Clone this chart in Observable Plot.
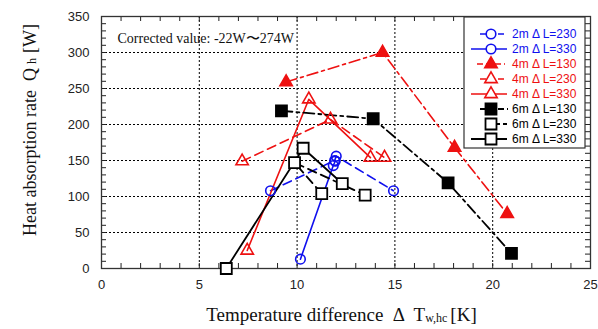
<!DOCTYPE html>
<html>
<head>
<meta charset="utf-8">
<script src="https://cdn.jsdelivr.net/npm/d3@7"></script>
<script src="https://cdn.jsdelivr.net/npm/@observablehq/plot@0.6"></script>
<style>
  html, body { margin: 0; padding: 0; background: #fff; }
  #chart svg { display: block; }
</style>
</head>
<body>
<div id="chart"></div>
<script>
// ---- data ----
const seriesNames = ["2m Δ L=230", "2m Δ L=330", "4m Δ L=130", "4m Δ L=230", "4m Δ L=330", "6m Δ L=130", "6m Δ L=230", "6m Δ L=330"];

const dT_2m230 = [8.64, 11.92, 12.0, 14.93];
const Q_2m230  = [108, 150, 156, 108];
const dT_2m330 = [10.17, 11.85, 11.95];
const Q_2m330  = [13, 143, 149];
const dT_4m130 = [9.44, 14.37, 18.05, 20.74];
const Q_4m130  = [259, 300, 168, 76];
const dT_4m230 = [7.19, 11.71, 14.47];
const Q_4m230  = [149, 207, 154];
const dT_4m330 = [7.45, 10.6, 13.75];
const Q_4m330  = [25, 235, 154];
const dT_6m130 = [9.2, 13.89, 17.72, 20.96];
const Q_6m130  = [219, 208, 119, 21];
const dT_6m230 = [11.26, 9.87, 13.48];
const Q_6m230  = [104, 147, 102];
const dT_6m330 = [6.38, 10.31, 12.31];
const Q_6m330  = [0, 167, 118];

const xTickLabels = [0, 5, 10, 15, 20, 25];
const yTickLabels = [0, 50, 100, 150, 200, 250, 300, 350];
const annotation = "Corrected value: -22W\u301C274W";

// ---- styles ----
const BLUE = "#1010ee", RED = "#ee1111", BLACK = "#000";
const DASH = "9,5", DASHDOT = "11,4,3,4";
const styles = [
  {color: BLUE,  dash: DASH,    symbol: "circle",   fill: "none",  r: 4.8, sw: 1.6, lx1: 480, lx2: 507},
  {color: BLUE,  dash: null,    symbol: "circle",   fill: "none",  r: 4.8, sw: 1.6, lx1: 471, lx2: 507},
  {color: RED,   dash: DASHDOT, symbol: "triangle", fill: RED,     r: 4.6, sw: 1.6, lx1: 477, lx2: 505},
  {color: RED,   dash: DASH,    symbol: "triangle", fill: "none",  r: 4.6, sw: 1.6, lx1: 480, lx2: 507},
  {color: RED,   dash: null,    symbol: "triangle", fill: "none",  r: 4.6, sw: 1.6, lx1: 471, lx2: 507},
  {color: BLACK, dash: DASHDOT, symbol: "square",   fill: BLACK,   r: 6.2, sw: 1.8, lx1: 480, lx2: 508},
  {color: BLACK, dash: DASH,    symbol: "square",   fill: "#fff",  r: 6.2, sw: 1.8, lx1: 485, lx2: 507},
  {color: BLACK, dash: null,    symbol: "square",   fill: "#fff",  r: 6.2, sw: 1.8, lx1: 471, lx2: 507}
];

const xs = [dT_2m230, dT_2m330, dT_4m130, dT_4m230, dT_4m330, dT_6m130, dT_6m230, dT_6m330];
const ys = [Q_2m230, Q_2m330, Q_4m130, Q_4m230, Q_4m330, Q_6m130, Q_6m230, Q_6m330];
const series = seriesNames.map((name, i) => ({
  name, style: styles[i],
  data: xs[i].map((x, j) => ({name, dT: x, Q: ys[i][j]}))
}));

const W = 598, H = 329, ML = 101, MR = 8, MT = 16, MB = 61;
const innerW = W - ML - MR, innerH = H - MT - MB;
const tickColor = "#222";

const marks = [
  Plot.gridX(xTickLabels.slice(1, -1), {stroke: "#000", strokeOpacity: 1, strokeWidth: 1, strokeDasharray: "2,2"}),
  Plot.gridY(yTickLabels.slice(1, -1), {stroke: "#000", strokeOpacity: 1, strokeWidth: 1, strokeDasharray: "2,2"}),
  // inward minor ticks on all four sides
  Plot.tickX(d3.range(0, 26, 1), {x: d => d, insetTop: innerH - 5, stroke: tickColor}),
  Plot.tickX(d3.range(0, 26, 1), {x: d => d, insetBottom: innerH - 5, stroke: tickColor}),
  Plot.tickY(d3.range(0, 351, 10), {y: d => d, insetRight: innerW - 5, stroke: tickColor}),
  Plot.tickY(d3.range(0, 351, 10), {y: d => d, insetLeft: innerW - 5, stroke: tickColor}),
  Plot.axisX(xTickLabels, {tickSize: 0, tickPadding: 11, fontSize: 13, fill: tickColor, fontFamily: "Liberation Sans, Arial, sans-serif", label: null}),
  Plot.axisY(yTickLabels, {tickSize: 0, tickPadding: 12, fontSize: 13, fill: tickColor, fontFamily: "Liberation Sans, Arial, sans-serif", label: null}),
  Plot.frame({stroke: "#333", strokeWidth: 1.3}),
  Plot.text([annotation], {text: d => d, frameAnchor: "top-left", dx: 16, dy: 22, fontSize: 14, fontFamily: "Liberation Serif, Times New Roman, serif", fill: "#111", textAnchor: "start", lineAnchor: "middle"})
];
for (const s of series) {
  marks.push(Plot.line(s.data, {x: "dT", y: "Q", stroke: s.style.color, strokeWidth: s.style.sw, strokeDasharray: s.style.dash}));
}
for (const s of series) {
  marks.push(Plot.dot(s.data, {x: "dT", y: "Q", symbol: s.style.symbol, r: s.style.r, stroke: s.style.color, strokeWidth: s.style.sw, fill: s.style.fill}));
}

const chart = Plot.plot({
  width: W, height: H,
  marginLeft: ML, marginRight: MR, marginTop: MT, marginBottom: MB,
  x: {domain: [0, 25], label: null},
  y: {domain: [0, 350], label: null},
  style: {background: "#fff", overflow: "visible"},
  marks
});
document.getElementById("chart").appendChild(chart);

// ---- axis titles and legend (non-data decorations) ----
const svg = d3.select(chart);
const serif = "Liberation Serif, Times New Roman, serif";

const yt = svg.append("text")
  .attr("transform", `translate(36,${MT + innerH / 2 - 12}) rotate(-90)`)
  .attr("text-anchor", "middle")
  .attr("font-family", serif).attr("font-size", 18).attr("fill", "#111");
yt.append("tspan").text("Heat absorption rate  Q");
yt.append("tspan").attr("font-size", 12).attr("dx", 4).text("h");
yt.append("tspan").attr("dx", 5).text("[W]");

const xt = svg.append("text")
  .attr("x", ML + innerW / 2 - 4).attr("y", 321)
  .attr("text-anchor", "middle")
  .attr("font-family", serif).attr("font-size", 19).attr("fill", "#111");
xt.append("tspan").text("Temperature difference  Δ  T");
xt.append("tspan").attr("font-size", 12).attr("dy", 1).text("w,hc");
xt.append("tspan").attr("dy", -1).attr("dx", 3).text("[K]");

const lg = svg.append("g").attr("text-anchor", "start");
lg.append("rect").attr("x", 464).attr("y", 17).attr("width", 121).attr("height", 131)
  .attr("fill", "#fff").attr("stroke", "#333").attr("stroke-width", 1.2);
const symMap = {circle: d3.symbolCircle, triangle: d3.symbolTriangle, square: d3.symbolSquare};
series.forEach((s, i) => {
  const y = 34 + i * 15, st = s.style, cx = 491;
  lg.append("line").attr("x1", st.lx1).attr("x2", st.lx2).attr("y1", y).attr("y2", y)
    .attr("stroke", st.color).attr("stroke-width", st.sw)
    .attr("stroke-dasharray", st.dash ? "6,3" : null);
  lg.append("path").attr("transform", `translate(${cx},${y})`)
    .attr("d", d3.symbol(symMap[st.symbol], Math.PI * st.r * st.r)())
    .attr("fill", st.fill === "none" ? "#fff" : st.fill).attr("stroke", st.color).attr("stroke-width", st.sw);
  lg.append("text").attr("x", 512).attr("y", y).attr("dy", "0.35em")
    .attr("text-anchor", "start")
    .attr("font-family", "Liberation Sans, Arial, sans-serif").attr("font-size", 12)
    .attr("fill", st.color).text(s.name);
});
</script>
</body>
</html>
